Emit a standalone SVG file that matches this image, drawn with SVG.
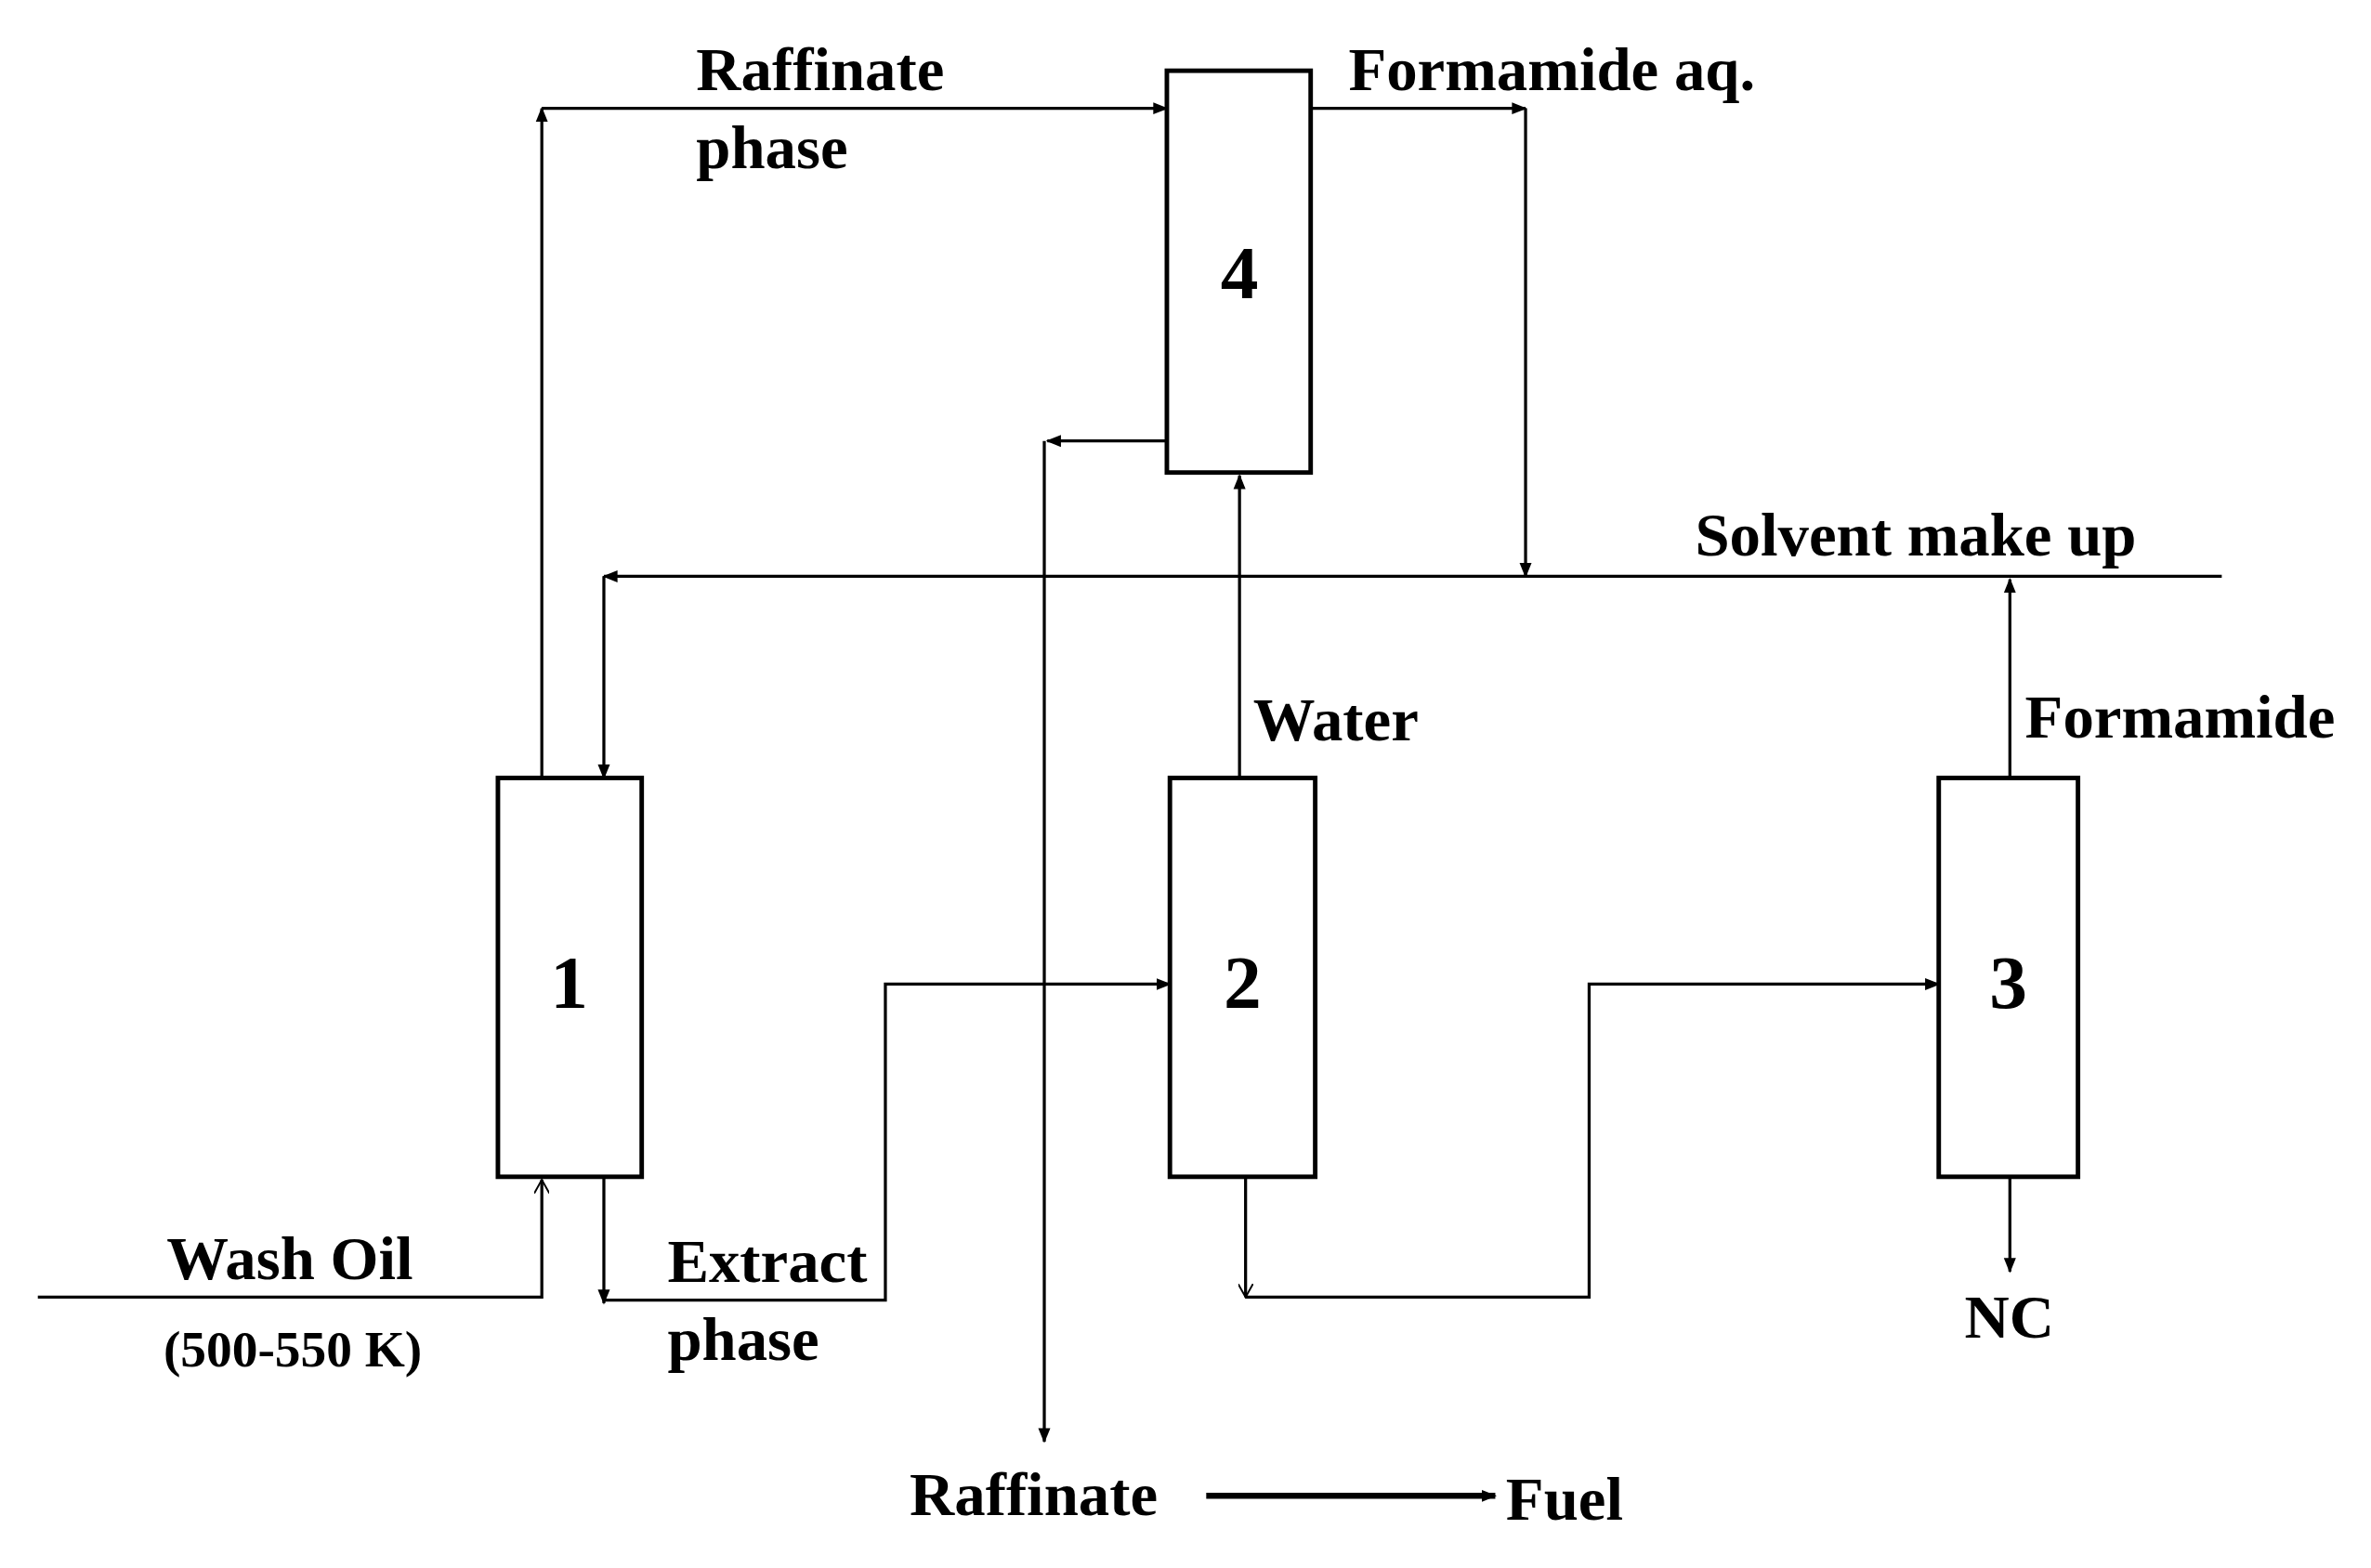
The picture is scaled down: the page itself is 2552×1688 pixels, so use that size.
<svg xmlns="http://www.w3.org/2000/svg" width="2552" height="1688" viewBox="0 0 2552 1688">
<defs>
<marker id="a" markerWidth="10" markerHeight="10" refX="9" refY="5" orient="auto" markerUnits="userSpaceOnUse"><path d="M0,1 L10,5 L0,9 Z" fill="#000"/></marker>
<marker id="o" markerWidth="10" markerHeight="10" refX="9" refY="5" orient="auto" markerUnits="userSpaceOnUse"><path d="M0,0 L9,5 L0,10" fill="none" stroke="#000" stroke-width="1.2"/></marker>
</defs>
<style>
.b{fill:#fff;stroke:#000;stroke-width:3}
.l{fill:none;stroke:#000;stroke-width:2}
text{font-family:"Liberation Serif","Times New Roman",serif;font-weight:bold;font-size:41px;fill:#000}
.n{font-size:50px;text-anchor:middle}
</style>
<rect width="2552" height="1688" fill="#fff"/>
<g transform="scale(1.629,1.62)">
<g id="connectors">
<path class="l" d="M358,517 V72" marker-end="url(#a)"/>
<path class="l" d="M358,72 H771" marker-end="url(#a)"/>
<path class="l" d="M866,72 H1008" marker-end="url(#a)"/>
<path class="l" d="M1008,72 V383" marker-end="url(#a)"/>
<path class="l" d="M1468,383 H399" marker-end="url(#a)"/>
<path class="l" d="M399,383 V517" marker-end="url(#a)"/>
<path class="l" d="M771,293 H692" marker-end="url(#a)"/>
<path class="l" d="M690,293 V958" marker-end="url(#a)"/>
<path class="l" d="M819,517 V316" marker-end="url(#a)"/>
<path class="l" d="M1328,517 V385" marker-end="url(#a)"/>
<path class="l" d="M25,862 H358 V784" marker-end="url(#o)"/>
<path class="l" d="M399,782 V866" marker-end="url(#a)"/>
<path class="l" d="M399,864 H585 V654 H773" marker-end="url(#a)"/>
<path class="l" d="M823,782 V862" marker-end="url(#o)"/>
<path class="l" d="M823,862 H1050 V654 H1281" marker-end="url(#a)"/>
<path class="l" d="M1328,782 V845" marker-end="url(#a)"/>
<path d="M797,994 H988" fill="none" stroke="#000" stroke-width="4" marker-end="url(#a)"/>
</g>
<g id="n1"><rect class="b" x="329" y="517" width="95" height="265"/><text class="n" x="376" y="670">1</text></g>
<g id="n2"><rect class="b" x="773" y="517" width="96" height="265"/><text class="n" x="821" y="670">2</text></g>
<g id="n3"><rect class="b" x="1281" y="517" width="92" height="265"/><text class="n" x="1327" y="670">3</text></g>
<g id="n4"><rect class="b" x="771" y="47" width="95" height="267"/><text class="n" x="819" y="198">4</text></g>
<g id="labels">
<text x="460" y="60">Raffinate</text>
<text x="460" y="112">phase</text>
<text x="891" y="60">Formamide aq.</text>
<text x="1120" y="369">Solvent make up</text>
<text x="828" y="492">Water</text>
<text x="1338" y="490">Formamide</text>
<text x="110" y="850">Wash Oil</text>
<text x="108" y="908" style="font-size:34px">(500-550 K)</text>
<text x="441" y="852">Extract</text>
<text x="441" y="904">phase</text>
<text x="1298" y="889">NC</text>
<text x="601" y="1007">Raffinate</text>
<text x="995" y="1010">Fuel</text>
</g>
</g>
</svg>
